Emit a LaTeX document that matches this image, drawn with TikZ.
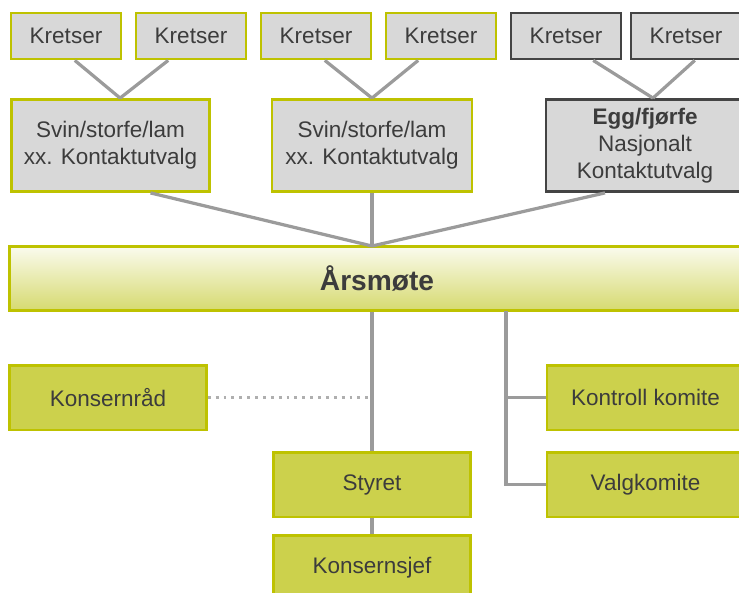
\documentclass[tikz,border=0pt]{standalone}
\usepackage{fontspec}
\setmainfont{Liberation Sans}
\usepackage{tikz}

\definecolor{olivelin}{RGB}{190,194,0}
\definecolor{boxgrey}{RGB}{216,216,216}
\definecolor{darklin}{RGB}{68,68,68}
\definecolor{lowfill}{RGB}{204,209,76}
\definecolor{wiregrey}{RGB}{155,155,155}
\definecolor{txtgrey}{RGB}{60,60,60}

\tikzset{
	orgbox/.style={draw=olivelin, line width=2pt, fill=boxgrey, text=txtgrey, align=center, inner sep=0pt, font=\fontsize{16}{19}\selectfont},
	kretsbox/.style={orgbox, minimum width=2.75cm, minimum height=1.15cm},
	kretsdark/.style={kretsbox, draw=darklin},
	unitbox/.style={orgbox, minimum width=4.95cm, minimum height=2.3cm},
	lowbox/.style={orgbox, fill=lowfill, minimum width=4.92cm, minimum height=1.62cm},
	wire/.style={draw=wiregrey, line width=2.3pt}
}

\begin{document}
\begin{tikzpicture}[x=0.025cm, y=-0.025cm]
			%%%%% START %%%%%
			\useasboundingbox (0,0) rectangle (739,593);
			
			\node[kretsbox] (k1) at (66,36) {Kretser};
			\node[kretsbox] (k2) at (191,36) {Kretser};
			\node[kretsbox] (k3) at (316,36) {Kretser};
			\node[kretsbox] (k4) at (441,36) {Kretser};
			\node[kretsdark] (k5) at (566,36) {Kretser};
			\node[kretsdark] (k6) at (686,36) {Kretser};
			
			\node[unitbox] (svin1) at (110.5,145.5) {Svin/storfe/lam\\xx. Kontaktutvalg};
			\node[unitbox, minimum width=5.0cm] (svin2) at (372,145.5) {Svin/storfe/lam\\xx. Kontaktutvalg};
			\node[unitbox, draw=darklin, minimum width=4.95cm] (egg) at (645,145.5) {\textbf{Egg/fjørfe}\\Nasjonalt\\Kontaktutvalg};
			
			\node[orgbox, top color=white!60!lowfill!25, bottom color=lowfill!80!white, minimum width=18.35cm, minimum height=1.58cm, font=\fontsize{20}{24}\selectfont\bfseries] (aars) at (377,278.5) {Årsmøte};
			
			\node[lowbox] (konsernraad) at (108,397.5) {Konsernråd};
			\node[lowbox] (kontroll) at (645.5,397.5) {Kontroll komite};
			\node[lowbox] (valg) at (645.5,484.5) {Valgkomite};
			\node[lowbox] (styret) at (372,484.5) {Styret};
			\node[lowbox] (konsernsjef) at (372,568) {Konsernsjef};
			
			\coordinate (hub) at (372,246);
			\coordinate (rbranch) at (506,311);
			
			% kretser to utvalg
			\draw[wire] ([xshift=0.22cm]k1.south) -- ([xshift=0.24cm]svin1.north);
			\draw[wire] ([xshift=-0.57cm]k2.south) -- ([xshift=0.24cm]svin1.north);
			\draw[wire] ([xshift=0.22cm]k3.south) -- (svin2.north);
			\draw[wire] ([xshift=-0.57cm]k4.south) -- (svin2.north);
			\draw[wire] ([xshift=0.68cm]k5.south) -- ([xshift=0.2cm]egg.north);
			\draw[wire] ([xshift=0.22cm]k6.south) -- ([xshift=0.2cm]egg.north);
			
			% utvalg to aarsmote
			\draw[wire] ([xshift=1cm]svin1.south) -- (hub);
			\draw[wire] (svin2.south) -- (hub);
			\draw[wire] ([xshift=-1cm]egg.south) -- (hub);
			
			\draw[wire] (styret.north) -- (styret.north |- aars.south);
			\draw[wire] (styret) -- (konsernsjef);
			\draw[wire] (rbranch) |- (valg.west);
			\draw[wire] (kontroll.west) -- (kontroll.west -| rbranch);
			\draw[draw=wiregrey!80, line width=1.6pt, dash pattern=on 2pt off 3.6pt] (konsernraad.east) -- (konsernraad.east -| styret.north);
			
			%%%%% END %%%%%
\end{tikzpicture}
\end{document}
